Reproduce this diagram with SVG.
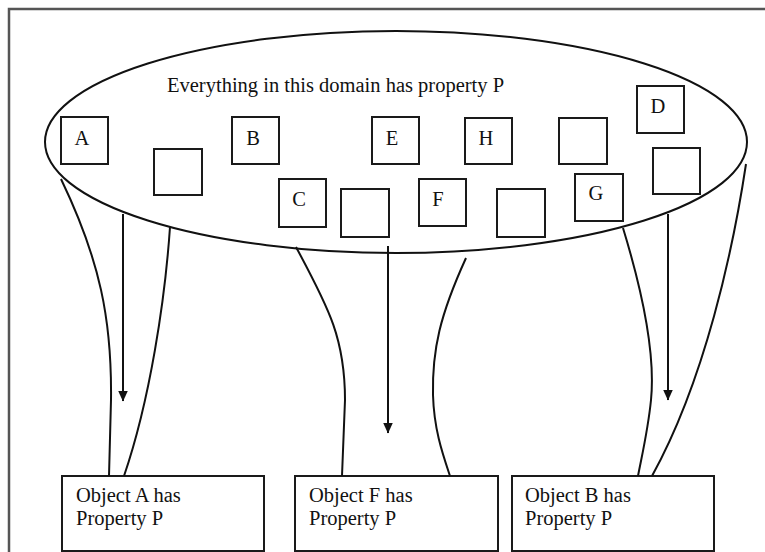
<svg xmlns="http://www.w3.org/2000/svg" width="765" height="552" viewBox="0 0 765 552">
<defs>
<style>
.bx{fill:#fff;stroke:#1a1a1a;stroke-width:2}
.lt{font-family:"Liberation Serif","Times New Roman",serif;font-size:20.5px;fill:#111}
.ln{fill:none;stroke:#111;stroke-width:2}
</style>
<marker id="ah" viewBox="0 0 11 10" refX="10.5" refY="5" markerWidth="11" markerHeight="10" markerUnits="userSpaceOnUse" orient="auto">
<path d="M0,0 L11,5 L0,10 Z" fill="#111"/>
</marker>
</defs>
<rect width="765" height="552" fill="#fff"/>
<path d="M9,552 V9 H765" fill="none" stroke="#555" stroke-width="2.5"/>

<g id="domain">
<ellipse cx="396" cy="142" rx="351" ry="111" fill="none" stroke="#111" stroke-width="2"/>
<text class="lt" x="167" y="92">Everything in this domain has property P</text>
</g>

<g id="node-A"><rect class="bx" x="61" y="117" width="47" height="47"/><text class="lt" x="82" y="145" text-anchor="middle">A</text></g>
<g id="node-empty1"><rect class="bx" x="154" y="149" width="48" height="46"/></g>
<g id="node-B"><rect class="bx" x="232" y="117" width="47" height="47"/><text class="lt" x="253" y="145" text-anchor="middle">B</text></g>
<g id="node-C"><rect class="bx" x="279" y="179" width="47" height="48"/><text class="lt" x="299" y="206" text-anchor="middle">C</text></g>
<g id="node-empty2"><rect class="bx" x="341" y="189" width="48" height="48"/></g>
<g id="node-E"><rect class="bx" x="372" y="117" width="47" height="47"/><text class="lt" x="392" y="145" text-anchor="middle">E</text></g>
<g id="node-F"><rect class="bx" x="419" y="179" width="47" height="47"/><text class="lt" x="438" y="206" text-anchor="middle">F</text></g>
<g id="node-H"><rect class="bx" x="465" y="118" width="47" height="46"/><text class="lt" x="486" y="145" text-anchor="middle">H</text></g>
<g id="node-empty3"><rect class="bx" x="497" y="189" width="48" height="48"/></g>
<g id="node-empty4"><rect class="bx" x="559" y="118" width="48" height="46"/></g>
<g id="node-G"><rect class="bx" x="575" y="174" width="48" height="47"/><text class="lt" x="596" y="200" text-anchor="middle">G</text></g>
<g id="node-D"><rect class="bx" x="637" y="86" width="47" height="47"/><text class="lt" x="658" y="113" text-anchor="middle">D</text></g>
<g id="node-empty5"><rect class="bx" x="653" y="148" width="47" height="46"/></g>

<g id="node-objA"><rect class="bx" x="62" y="476" width="202" height="75"/><text class="lt" x="76" y="502">Object A has</text><text class="lt" x="76" y="525">Property P</text></g>
<g id="node-objF"><rect class="bx" x="295" y="476" width="203" height="75"/><text class="lt" x="309" y="502">Object F has</text><text class="lt" x="309" y="525">Property P</text></g>
<g id="node-objB"><rect class="bx" x="512" y="476" width="202" height="75"/><text class="lt" x="525" y="502">Object B has</text><text class="lt" x="525" y="525">Property P</text></g>

<g id="connectors">
<path class="ln" d="M61,179 C100,260 112,320 111,400 L109,476"/>
<path class="ln" d="M170,227 C165,300 150,400 124,476"/>
<path class="ln" d="M123,214 V401" marker-end="url(#ah)"/>
<path class="ln" d="M296,247 C330,310 345,340 345,400 L342,476"/>
<path class="ln" d="M466,258 C440,315 432,350 433,395 C434,430 443,455 450,476"/>
<path class="ln" d="M388,246 V433" marker-end="url(#ah)"/>
<path class="ln" d="M623,228 C645,300 655,360 651,400 C648,430 642,455 638,476"/>
<path class="ln" d="M746,164 C733,250 705,380 652,476"/>
<path class="ln" d="M668,214 V400" marker-end="url(#ah)"/>
</g>
</svg>
